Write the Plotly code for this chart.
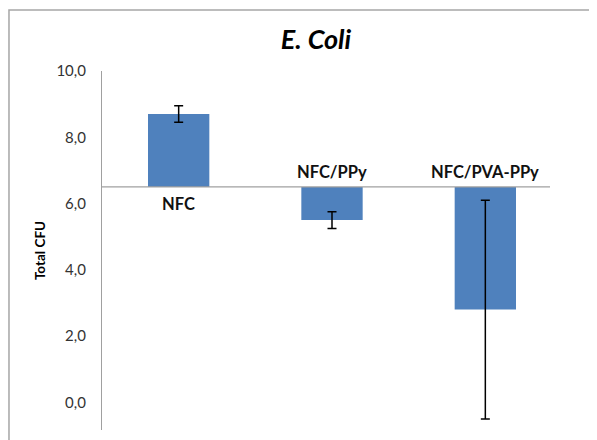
import plotly.graph_objects as go

categories = ["NFC", "NFC/PPy", "NFC/PVA-PPy"]
values = [8.7, 5.5, 2.8]
errors = [0.25, 0.25, 3.3]
baseline = 6.5
y_ticks = [0, 2, 4, 6, 8, 10]

BAR_COLOR = "#4f81bd"
GRAY = "#a0a0a0"
FONT = "Lato"

fig = go.Figure()
fig.add_trace(go.Bar(
    x=categories,
    y=[v - baseline for v in values],
    base=baseline,
    width=0.4,
    marker=dict(color=BAR_COLOR, line=dict(width=0)),
    showlegend=False,
    hoverinfo="skip",
))
fig.add_trace(go.Scatter(
    x=categories,
    y=values,
    mode="markers",
    marker=dict(size=1, color="rgba(0,0,0,0)"),
    error_y=dict(type="data", array=errors, visible=True, color="black", thickness=1.5, width=4.5),
    showlegend=False,
    hoverinfo="skip",
))

# category labels next to the crossing axis
for c, v in zip(categories, values):
    pos = v >= baseline
    fig.add_annotation(
        x=c, y=baseline, xref="x", yref="y",
        text="<b>%s</b>" % c, showarrow=False,
        yanchor="top" if pos else "bottom",
        yshift=-5 if pos else 3,
        font=dict(family=FONT, size=16.5, color="#111111"),
    )

# horizontal axis line crossing at baseline
fig.add_shape(type="line", xref="paper", yref="y", x0=0, x1=0.974, y0=baseline, y1=baseline,
              line=dict(color=GRAY, width=1.2))
# chart border (cropped)
fig.add_shape(type="rect", xref="paper", yref="paper", x0=-0.2022, x1=2, y0=-1, y1=1.17,
              line=dict(color="#a6a6a6", width=1.5), fillcolor="rgba(0,0,0,0)", layer="below")

fig.update_layout(
    width=597, height=440,
    margin=dict(l=94, r=43, t=63, b=18),
    paper_bgcolor="white", plot_bgcolor="white",
    separators=",.",
    title=dict(text="<b><i>E. Coli</i></b>", x=308 / 597, xref="container", xanchor="center",
               y=1 - 32 / 440, yref="container", yanchor="middle",
               font=dict(family=FONT, size=27, color="black")),
    xaxis=dict(showticklabels=False, showline=False, showgrid=False, zeroline=False, ticks=""),
    yaxis=dict(range=[-0.835, 10], tickvals=y_ticks, tickformat=".1f",
               showline=True, linecolor=GRAY, linewidth=1.2,
               showgrid=False, zeroline=False, ticks="", ticklabelstandoff=12,
               tickfont=dict(family=FONT, size=15, color="#333333"),
               title=dict(text="<b>Total CFU</b>", standoff=7,
                          font=dict(family=FONT, size=13.5, color="black"))),
    bargap=0.6,
)

fig.write_html("out.html")
